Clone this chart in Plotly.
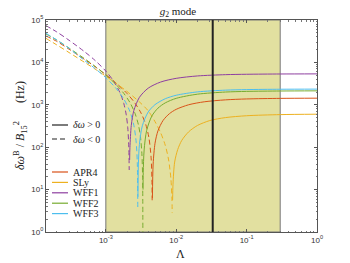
import plotly.graph_objects as go

# ---------------- data ----------------
eos_names = ["APR4", "SLy", "WFF1", "WFF2", "WFF3"]
eos_colors = ["#D95319", "#EDB120", "#8E3FA0", "#77AC30", "#4DBEEE"]

# dashed branch (delta omega < 0), |value| in Hz
lam_apr4_neg = [1.41e-4, 2e-4, 3e-4, 5e-4, 7e-4, 1e-3, 1.4e-3, 2e-3, 2.6e-3, 3.2e-3, 3.7e-3, 4.1e-3, 4.4e-3, 4.52e-3, 4.552e-3]
apr4_neg = [42000, 31500, 20500, 11700, 7960, 5140, 3260, 1850, 1090, 616, 339, 165, 56, 16, 5.6]
lam_sly_neg = [1.41e-4, 2e-4, 3e-4, 5e-4, 7e-4, 1e-3, 1.4e-3, 2e-3, 3e-3, 4e-3, 5e-3, 6e-3, 7e-3, 7.8e-3, 8.4e-3, 8.7e-3, 8.76e-3]
sly_neg = [37000, 26000, 17100, 10000, 7000, 4720, 3200, 2060, 1170, 720, 400, 220, 110, 50, 18, 6, 2.8]
lam_wff1_neg = [1.41e-4, 2e-4, 3e-4, 5e-4, 7e-4, 1e-3, 1.3e-3, 1.6e-3, 1.8e-3, 1.95e-3, 2.05e-3, 2.12e-3, 2.148e-3]
wff1_neg = [73500, 52600, 33300, 17800, 11200, 6230, 3550, 1880, 1074, 578, 288, 101, 29]
lam_wff2_neg = [1.41e-4, 2e-4, 3e-4, 5e-4, 7e-4, 1e-3, 1.4e-3, 1.8e-3, 2.2e-3, 2.6e-3, 2.9e-3, 3.1e-3, 3.25e-3, 3.33e-3, 3.358e-3]
wff2_neg = [46800, 33800, 21800, 12200, 8130, 5050, 3000, 1860, 1130, 625, 339, 180, 72, 19, 1.0]
lam_wff3_neg = [1.41e-4, 2e-4, 3e-4, 5e-4, 7e-4, 1e-3, 1.4e-3, 1.8e-3, 2.2e-3, 2.5e-3, 2.7e-3, 2.8e-3, 2.846e-3]
wff3_neg = [48500, 34000, 21500, 11050, 7220, 4350, 2430, 1370, 694, 329, 131, 42, 3.3]

# solid branch (delta omega > 0)
lam_apr4_pos = [4.59e-3, 4.7e-3, 5e-3, 5.5e-3, 6.5e-3, 8e-3, 1e-2, 1.5e-2, 2.5e-2, 5e-2, 0.1, 0.3, 1]
apr4_pos = [6.3, 40, 124, 243, 427, 617, 782, 1001, 1177, 1308, 1374, 1418, 1433]
lam_sly_pos = [8.884e-3, 9e-3, 9.5e-3, 1.05e-2, 1.2e-2, 1.5e-2, 2e-2, 3e-2, 5e-2, 0.1, 0.3, 1]
sly_pos = [5.7, 13.4, 44.6, 88, 145, 230, 325, 425, 499, 552, 587, 600]
lam_wff1_pos = [2.18e-3, 2.2e-3, 2.3e-3, 2.5e-3, 3e-3, 4e-3, 6e-3, 1e-2, 2e-2, 5e-2, 0.1, 0.3, 1]
wff1_pos = [50, 98, 327, 730, 1500, 2470, 3440, 4210, 4790, 5140, 5250, 5330, 5360]
lam_wff2_pos = [3.376e-3, 3.4e-3, 3.5e-3, 3.8e-3, 4.5e-3, 5.5e-3, 7e-3, 1e-2, 2e-2, 5e-2, 0.1, 0.3, 1]
wff2_pos = [10, 25, 86, 248, 542, 833, 1113, 1421, 1780, 2000, 2070, 2116, 2133]
lam_wff3_pos = [2.858e-3, 2.9e-3, 3e-3, 3.3e-3, 4e-3, 5e-3, 7e-3, 1e-2, 2e-2, 5e-2, 0.1, 0.3, 1]
wff3_pos = [6.7, 40, 117, 320, 676, 1010, 1393, 1680, 2015, 2216, 2283, 2328, 2343]

# shaded band and reference line in Lambda
band_lam = [1e-3, 0.3]
ref_lam = 0.033

x_tickvals = [1e-3, 1e-2, 1e-1, 1]
x_ticktext = ["10<sup>-3</sup>", "10<sup>-2</sup>", "10<sup>-1</sup>", "10<sup>0</sup>"]
y_tickvals = [1, 10, 100, 1e3, 1e4, 1e5]
y_ticktext = ["10<sup>0</sup>", "10<sup>1</sup>", "10<sup>2</sup>", "10<sup>3</sup>", "10<sup>4</sup>", "10<sup>5</sup>"]

neg_lams = [lam_apr4_neg, lam_sly_neg, lam_wff1_neg, lam_wff2_neg, lam_wff3_neg]
neg_vals = [apr4_neg, sly_neg, wff1_neg, wff2_neg, wff3_neg]
pos_lams = [lam_apr4_pos, lam_sly_pos, lam_wff1_pos, lam_wff2_pos, lam_wff3_pos]
pos_vals = [apr4_pos, sly_pos, wff1_pos, wff2_pos, wff3_pos]

# minor tick positions (2..9 within each decade)
x_minor = [m * 10.0 ** e for e in range(-4, 0) for m in range(2, 10) if m * 10.0 ** e >= 1.41e-4]
y_minor = [m * 10.0 ** e for e in range(0, 5) for m in range(2, 10)]

# ---------------- figure ----------------
W, H = 350, 263
ML, MR, MT, MB = 46, 33, 20, 31
PW, PH = W - ML - MR, H - MT - MB

def px_x(x):
    return (x - ML) / PW

def px_y(y):
    return (H - MB - y) / PH

fig = go.Figure()

for name, col, lx, ly in zip(eos_names, eos_colors, neg_lams, neg_vals):
    fig.add_trace(go.Scatter(x=lx, y=ly, mode="lines", name=name, showlegend=False,
                             line=dict(color=col, width=1, dash="5px,3px", shape="spline", smoothing=0.8)))
for name, col, lx, ly in zip(eos_names, eos_colors, pos_lams, pos_vals):
    fig.add_trace(go.Scatter(x=lx, y=ly, mode="lines", name=name, showlegend=False,
                             line=dict(color=col, width=1, shape="spline", smoothing=0.8)))

shapes = [
    dict(type="rect", xref="x", yref="paper", x0=band_lam[0], x1=band_lam[1], y0=0, y1=1,
         fillcolor="rgb(226,224,160)", line=dict(color="#777", width=1), layer="below"),
    dict(type="line", xref="x", yref="paper", x0=ref_lam, x1=ref_lam, y0=0, y1=1,
         line=dict(color="#222", width=2), layer="above"),
]

annotations = []
serif = "Liberation Serif, DejaVu Serif, serif"

# manual legend
legend_items = [("<i>δω</i> > 0", "#222", "solid", 125),
                ("<i>δω</i> < 0", "#222", "5px,3px", 139)]
for i, (n, c) in enumerate(zip(eos_names, eos_colors)):
    legend_items.append((n, c, "solid", 172 + 10.4 * i))
for txt, c, dash, ypx in legend_items:
    shapes.append(dict(type="line", xref="paper", yref="paper", x0=px_x(52), x1=px_x(68),
                       y0=px_y(ypx), y1=px_y(ypx), line=dict(color=c, width=1.2, dash=dash)))
    annotations.append(dict(xref="paper", yref="paper", x=px_x(71), y=px_y(ypx), text=txt,
                            showarrow=False, xanchor="left", yanchor="middle",
                            font=dict(family=serif, size=10, color="#222")))

# y title
annotations.append(dict(xref="paper", yref="paper", x=px_x(20), y=px_y(126),
                        text="<i>δω</i><sup>B</sup> / <i>B</i><sub>15</sub><sup>2</sup>      (Hz)",
                        textangle=-90, showarrow=False, xanchor="center", yanchor="middle",
                        font=dict(family=serif, size=12, color="#222")))
# x title
annotations.append(dict(xref="paper", yref="paper", x=px_x(180), y=px_y(254),
                        text="Λ", showarrow=False, xanchor="center", yanchor="middle",
                        font=dict(family=serif, size=12, color="#222")))

axis_common = dict(type="log", showline=True, mirror="ticks", linecolor="#555", linewidth=1,
                   ticks="inside", ticklen=3, tickcolor="#555", showgrid=False, zeroline=False,
                   automargin=False,
                   tickfont=dict(family="Liberation Sans, Arial, sans-serif", size=8, color="#333"))

fig.update_layout(
    width=W, height=H,
    margin=dict(l=ML, r=MR, t=MT, b=MB, autoexpand=False),
    paper_bgcolor="white", plot_bgcolor="white",
    showlegend=False,
    title=dict(text="<i>g</i><sub>2</sub> mode", x=178 / W, xanchor="center",
               y=1 - 11 / H, yanchor="middle", font=dict(family=serif, size=11, color="#222")),
    xaxis=dict(axis_common, range=[-3.85, 0], tickmode="array", tickvals=x_tickvals, ticktext=x_ticktext,
               minor=dict(tickmode="array", tickvals=x_minor, ticks="inside", ticklen=1.5,
                          tickcolor="#777", showgrid=False)),
    yaxis=dict(axis_common, range=[0, 5], tickmode="array", tickvals=y_tickvals, ticktext=y_ticktext,
               minor=dict(tickmode="array", tickvals=y_minor, ticks="inside", ticklen=1.5,
                          tickcolor="#777", showgrid=False)),
    shapes=shapes,
    annotations=annotations,
)

fig.write_html("out.html", config={"displayModeBar": False},
               post_script="document.body.style.margin='0px';")
